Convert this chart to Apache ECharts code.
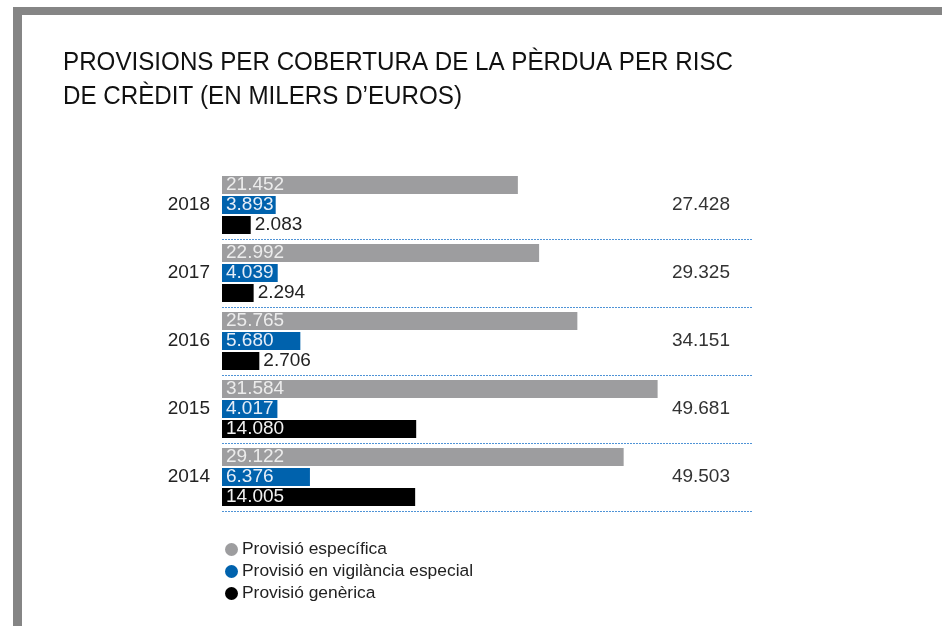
<!DOCTYPE html>
<html>
<head>
<meta charset="utf-8">
<script src="https://cdn.jsdelivr.net/npm/echarts@6/dist/echarts.min.js"></script>
<style>
  html, body { margin: 0; padding: 0; background: #fff; }
  #main { width: 942px; height: 626px; }
</style>
</head>
<body>
<div id="main"></div>
<script>
var years = ['2018', '2017', '2016', '2015', '2014'];
var especifica = [21452, 22992, 25765, 31584, 29122];
var vigilancia = [3893, 4039, 5680, 4017, 6376];
var generica = [2083, 2294, 2706, 14080, 14005];
var seriesNames = ['Provisió específica', 'Provisió en vigilància especial', 'Provisió genèrica'];
var titleLines = ['PROVISIONS PER COBERTURA DE LA PÈRDUA PER RISC', 'DE CRÈDIT (EN MILERS D’EUROS)'];

var font = '"Liberation Sans", Arial, sans-serif';

function fmt(v) {
  // separador de milers amb punt
  return String(v).replace(/\B(?=(\d{3})+(?!\d))/g, '.');
}

var totals = years.map(function (y, i) {
  return especifica[i] + vigilancia[i] + generica[i];
});

// etiquetes: dins la barra, o a la dreta si la barra és massa curta
function labelled(values, color, minInside) {
  return values.map(function (v) {
    if (v < minInside) {
      return { value: v, label: { position: 'right', color: '#222', distance: 4 } };
    }
    return { value: v, label: { color: color } };
  });
}

var chartDom = document.getElementById('main');
var myChart = echarts.init(chartDom);
var option;

option = {
  animation: false,
  textStyle: { fontFamily: font },
  graphic: [
    { type: 'rect', shape: { x: 13, y: 7, width: 929, height: 8 }, style: { fill: '#858585' } },
    { type: 'rect', shape: { x: 13, y: 7, width: 9, height: 619 }, style: { fill: '#858585' } },
    {
      type: 'text',
      x: 63,
      y: 46,
      scaleX: 0.93,
      style: {
        text: titleLines.join('\n'),
        font: 'normal 26px "Liberation Sans", Arial, sans-serif',
        fill: '#111',
        lineHeight: 34
      }
    }
  ],
  legend: {
    orient: 'vertical',
    left: 220,
    top: 536,
    icon: 'circle',
    itemWidth: 13,
    itemHeight: 13,
    itemGap: 5,
    textStyle: { fontSize: 17.4, color: '#222', fontFamily: font, padding: [0, 0, 0, -1] },
    data: seriesNames
  },
  grid: {
    left: 222,
    right: 189,
    top: 171,
    bottom: 115,
    containLabel: false
  },
  xAxis: {
    type: 'value',
    min: 0,
    max: 38500,
    show: false
  },
  yAxis: [
    {
      type: 'category',
      data: years,
      inverse: true,
      axisLine: { show: false },
      axisTick: { show: false },
      axisLabel: { fontSize: 19, color: '#222', margin: 12 },
      splitLine: {
        show: true,
        interval: function (index) { return index > 0; },
        lineStyle: { color: '#4f93d6', type: [2, 1], width: 1 }
      }
    },
    {
      type: 'category',
      data: years,
      inverse: true,
      position: 'right',
      axisLine: { show: false },
      axisTick: { show: false },
      axisLabel: {
        inside: true,
        margin: 23,
        fontSize: 19,
        color: '#333',
        formatter: function (val, idx) { return fmt(totals[idx]); }
      },
      splitLine: { show: false }
    }
  ],
  series: [
    {
      name: seriesNames[0],
      type: 'bar',
      barWidth: 18,
      barGap: '11%',
      itemStyle: { color: '#9d9d9f' },
      label: { show: true, position: 'insideLeft', distance: 4, fontSize: 19, formatter: function (p) { return fmt(p.value); } },
      data: labelled(especifica, '#ececec', 0)
    },
    {
      name: seriesNames[1],
      type: 'bar',
      barWidth: 18,
      barGap: '11%',
      itemStyle: { color: '#0062ad' },
      label: { show: true, position: 'insideLeft', distance: 4, fontSize: 19, formatter: function (p) { return fmt(p.value); } },
      data: labelled(vigilancia, '#e6eef8', 0)
    },
    {
      name: seriesNames[2],
      type: 'bar',
      barWidth: 18,
      barGap: '11%',
      itemStyle: { color: '#000000' },
      label: { show: true, position: 'insideLeft', distance: 4, fontSize: 19, formatter: function (p) { return fmt(p.value); } },
      data: labelled(generica, '#f2f2f2', 4000)
    }
  ]
};

option && myChart.setOption(option);
</script>
</body>
</html>
